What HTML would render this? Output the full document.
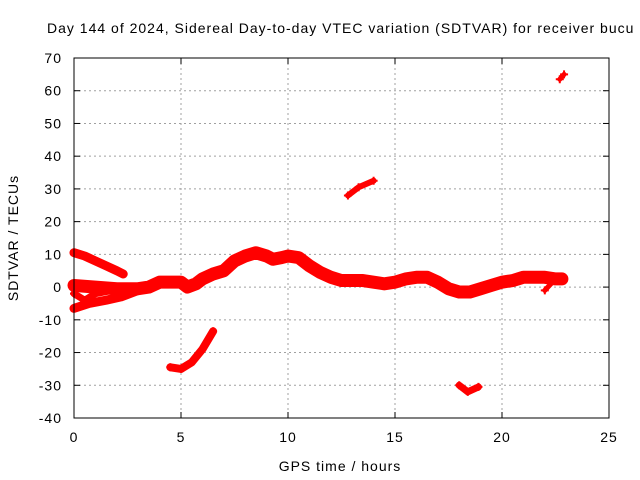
<!DOCTYPE html>
<html><head><meta charset="utf-8"><style>
body{margin:0;background:#fff}
svg{display:block;font-family:"Liberation Sans",sans-serif;font-size:14px;letter-spacing:1px}
</style></head><body>
<svg id="c" width="640" height="480">
<rect width="640" height="480" fill="#fff"/>
<text x="47" y="33" fill="#000">Day 144 of 2024, Sidereal Day-to-day VTEC variation (SDTVAR) for receiver bucu</text>
<g id="grid"></g>
<g id="ticks"></g>
<g id="marks"></g>
<rect x="74" y="58" width="535" height="360" fill="none" stroke="#000"/>
<text x="340" y="471" text-anchor="middle">GPS time / hours</text>
<text transform="translate(18,238) rotate(-90)" text-anchor="middle">SDTVAR / TECUs</text>
</svg>
<script>
const xTicks=[0,5,10,15,20,25];
const yTicks=[-40,-30,-20,-10,0,10,20,30,40,50,60,70];
const seg1Hours=[0,0.5,1,1.5,2,2.3];
const seg1Vals=[10.5,9.5,8,6.5,5,4];
const seg2Hours=[0,1,2,3,3.5,4,4.5,5,5.3,5.7,6,6.5,7,7.5,8,8.5,9,9.3,9.7,10,10.5,11,11.5,12,12.5,13,13.5,14,14.5,15,15.5,16,16.5,17,17.5,18,18.5,19,19.5,20,20.5,21,21.5,22,22.5,22.8];
const seg2Vals=[0.5,0,-0.5,-0.5,0,1.5,1.5,1.5,0,1,2.5,4,5,8,9.5,10.5,9.5,8.5,9,9.5,9,6.5,4.5,3,2,2,2,1.5,1,1.5,2.5,3,3,1.5,-0.5,-1.5,-1.5,-0.5,0.5,1.5,2,3,3,3,2.5,2.5];
const seg3Hours=[0,0.7,1.5,2.2,3];
const seg3Vals=[-6.5,-5,-4,-3,-1];
const seg4Hours=[0,0.5,1,1.8,2.5];
const seg4Vals=[-2,-4,-2,-1,0];
const seg5Hours=[4.5,5,5.5,6,6.5];
const seg5Vals=[-24.5,-25,-23,-19,-13.5];
const seg6Hours=[12.8,13.3,14];
const seg6Vals=[28,30.5,32.5];
const seg7Hours=[18,18.4,18.9];
const seg7Vals=[-30,-32,-30.5];
const seg8Hours=[22.7,22.9];
const seg8Vals=[63.5,65];
const seg9Hours=[22,22.5];
const seg9Vals=[-1,2.5];
const X=h=>74+h*535/25, Y=v=>58+(70-v)*360/110;
const NS="http://www.w3.org/2000/svg";
const grid=document.getElementById('grid'),ticks=document.getElementById('ticks'),marks=document.getElementById('marks');
function mk(t,a,p){const e=document.createElementNS(NS,t);for(const k in a)e.setAttribute(k,a[k]);p.appendChild(e);return e;}
xTicks.forEach(t=>{const x=X(t);
 if(t>0&&t<25){const g=mk('line',{x1:x,y1:58,x2:x,y2:418,stroke:'#a0a0a0','stroke-dasharray':'2,3'},grid);
 
 }
 mk('line',{x1:x,y1:418,x2:x,y2:412,stroke:'#000'},ticks);mk('line',{x1:x,y1:58,x2:x,y2:64,stroke:'#000'},ticks);
 const l=mk('text',{x:x,y:442,'text-anchor':'middle'},ticks);l.textContent=t;
 
 });
yTicks.forEach(t=>{const y=Y(t);
 if(t>-40&&t<70){const g=mk('line',{x1:74,y1:y,x2:609,y2:y,stroke:'#a0a0a0','stroke-dasharray':'2,3'},grid);
 
 }
 mk('line',{x1:74,y1:y,x2:80,y2:y,stroke:'#000'},ticks);mk('line',{x1:609,y1:y,x2:603,y2:y,stroke:'#000'},ticks);
 const l=mk('text',{x:62,y:y+5,'text-anchor':'end'},ticks);l.textContent=t;
 
 });
const segs=[[seg1Hours,seg1Vals,9],[seg2Hours,seg2Vals,13],[seg3Hours,seg3Vals,9],[seg4Hours,seg4Vals,7],[seg5Hours,seg5Vals,8],[seg6Hours,seg6Vals,6],[seg7Hours,seg7Vals,7],[seg8Hours,seg8Vals,5],[seg9Hours,seg9Vals,5]];
segs.forEach(([hs,vs,w])=>{
 const pts=hs.map((h,i)=>X(h)+','+Y(vs[i])).join(' ');
 const p=mk('polyline',{points:pts,fill:'none',stroke:'#f00','stroke-width':w,'stroke-linejoin':'round','stroke-linecap':'round'},marks);
 
 
 hs.forEach((h,i)=>{const x=X(h),y=Y(vs[i]);
  const m=mk('path',{d:`M${x-4},${y}H${x+4}M${x},${y-4}V${y+4}`,stroke:'#f00','stroke-width':2},marks);
  
  });
});
</script>
</body></html>
